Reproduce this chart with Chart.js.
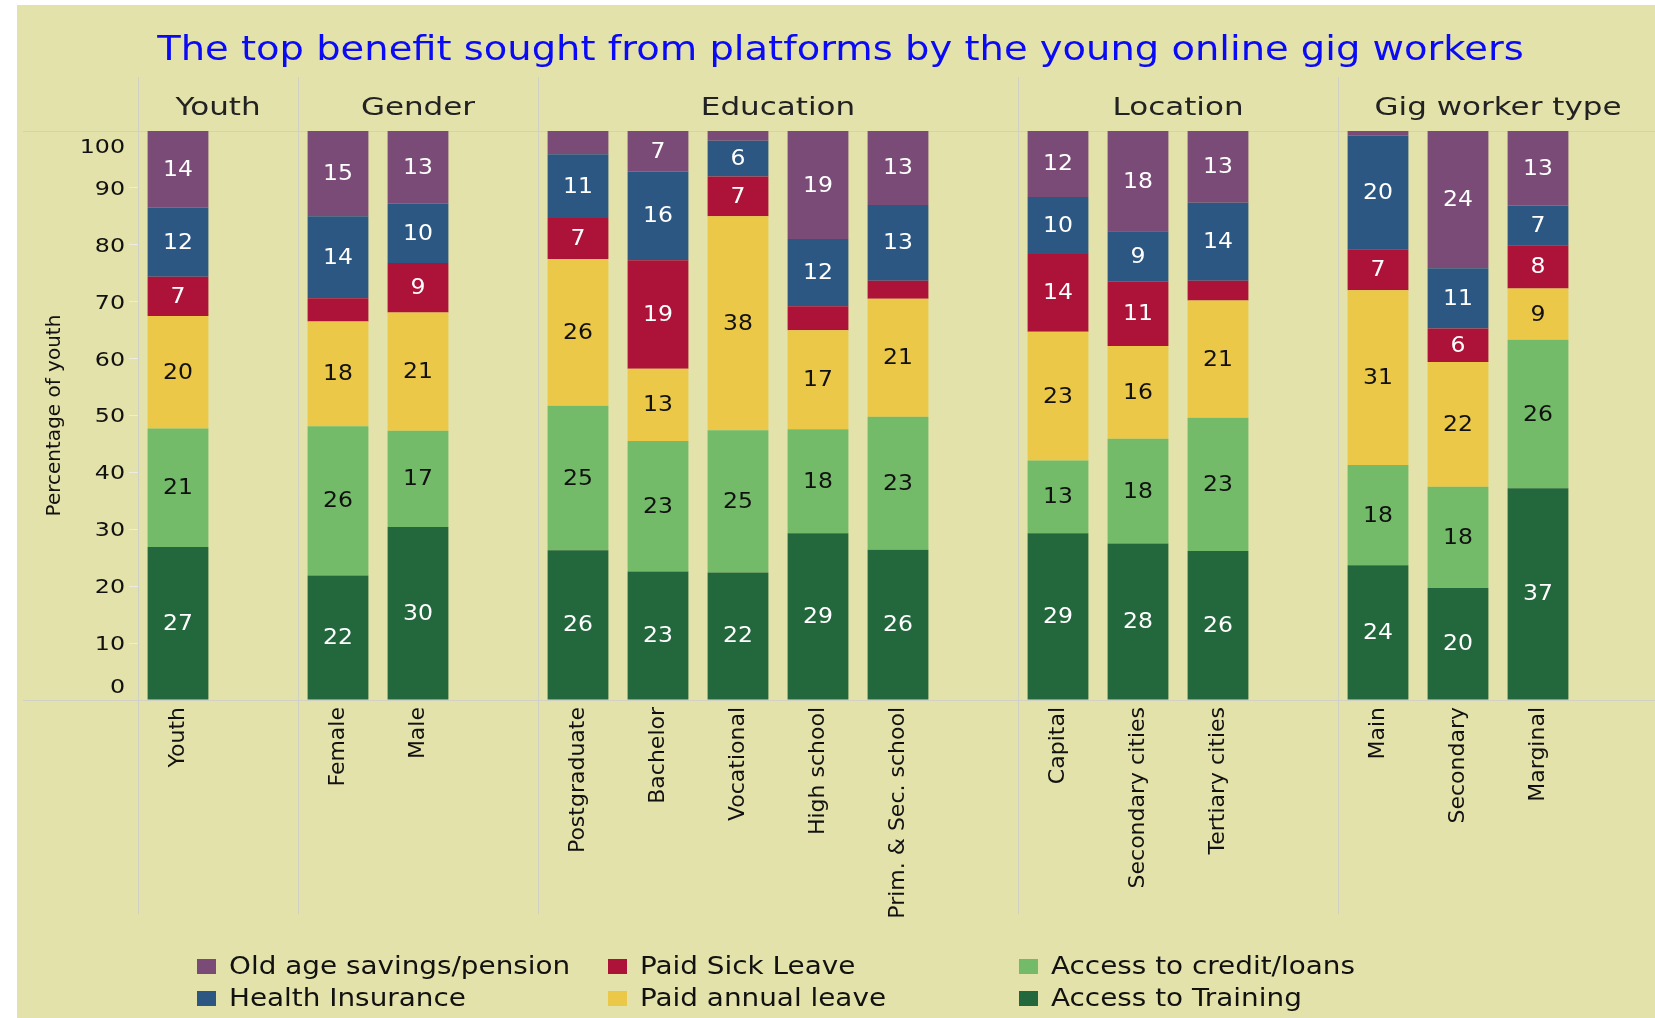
<!DOCTYPE html>
<html>
<head>
<meta charset="utf-8">
<title>Top benefit sought from platforms</title>
<script src="https://cdn.jsdelivr.net/npm/chart.js@4.4.1/dist/chart.umd.min.js"></script>
<style>
  html, body { margin: 0; padding: 0; background: #fff; overflow: hidden; }
  #wrap { position: absolute; left: 17px; top: 5px; width: 1645px; height: 1013px; background: #e3e2aa; }
  #legend {
    position: absolute; left: 180px; top: 945px;
    display: grid; grid-template-columns: 411px 411px 300px; grid-template-rows: 32px 32px;
    grid-auto-flow: column; font-family: "DejaVu Sans"; font-size: 24px; color: #111;
  }
  .item { display: flex; align-items: center; white-space: nowrap; }
  .box { width: 19px; height: 15px; margin-right: 13px; flex: none; }
  .item span { display: inline-block; transform: scaleX(1.16); transform-origin: left center; }
</style>
</head>
<body>
<div id="wrap">
  <canvas id="chart"></canvas>
  <div id="legend"></div>
</div>
<script>
const chartTitle = "The top benefit sought from platforms by the young online gig workers";

// slots with "" are the empty gaps between the groups
const categories = ["Youth", "", "Female", "Male", "", "Postgraduate", "Bachelor", "Vocational", "High school",
  "Prim. & Sec. school", "", "Capital", "Secondary cities", "Tertiary cities", "", "Main", "Secondary", "Marginal", ""];

const groupNames = ["Youth", "Gender", "Education", "Location", "Gig worker type"];
const groupStarts = [0, 2, 5, 11, 15];
const groupEnds = [2, 5, 11, 15, 19];

// percent of youth, bottom of the stack first
const training = [26.9, null, 21.9, 30.4, null, 26.3, 22.6, 22.4, 29.3, 26.4, null, 29.3, 27.5, 26.2, null, 23.7, 19.7, 37.2, null];
const credit   = [20.8, null, 26.2, 16.9, null, 25.4, 22.9, 25.0, 18.3, 23.4, null, 12.8, 18.4, 23.4, null, 17.6, 17.8, 26.1, null];
const annual   = [19.8, null, 18.4, 20.8, null, 25.8, 12.7, 37.6, 17.4, 20.7, null, 22.6, 16.3, 20.6, null, 30.7, 21.9, 9.0, null];
const sick     = [6.9, null, 4.1, 8.7, null, 7.2, 19.1, 7.0, 4.2, 3.2, null, 13.7, 11.3, 3.5, null, 7.2, 5.9, 7.6, null];
const health   = [12.1, null, 14.4, 10.4, null, 11.2, 15.6, 6.3, 11.8, 13.3, null, 10.0, 8.9, 13.7, null, 20.0, 10.6, 7.0, null];
const pension  = [13.5, null, 15.0, 12.8, null, 4.1, 7.1, 1.7, 19.0, 13.0, null, 11.6, 17.6, 12.6, null, 0.8, 24.1, 13.1, null];

const seriesNames = ["Access to Training", "Access to credit/loans", "Paid annual leave", "Paid Sick Leave",
  "Health Insurance", "Old age savings/pension"];
const seriesData = [training, credit, annual, sick, health, pension];
const seriesColors = ["#23683d", "#74bb69", "#ebc847", "#ad1238", "#2b5782", "#7b4b77"];
const labelInk = ["#fff", "#111", "#111", "#fff", "#fff", "#fff"];

const lineColor = "#d0d0c4";

// the source picture is stretched sideways, so the text is too
function stretchText(ctx, text, x, y, sx) {
  ctx.save();
  ctx.translate(x, y);
  ctx.scale(sx, 1);
  ctx.fillText(text, 0, 0);
  ctx.restore();
}

const decor = {
  id: "decor",
  beforeDatasetsDraw(chart) {
    const { ctx, chartArea, scales: { x, y } } = chart;
    const slot = x.width / categories.length;
    ctx.save();

    // title
    ctx.fillStyle = "#0a0af5";
    ctx.font = '33px "DejaVu Sans"';
    ctx.textAlign = "center";
    ctx.textBaseline = "middle";
    stretchText(ctx, chartTitle, chart.width / 2 + 1, 46, 1.165);

    ctx.strokeStyle = lineColor;
    ctx.lineWidth = 1;
    // header borders above and below the bars
    [chartArea.top, chartArea.bottom].forEach(py => {
      ctx.beginPath();
      ctx.moveTo(6, Math.round(py) + 0.5);
      ctx.lineTo(chart.width, Math.round(py) + 0.5);
      ctx.stroke();
    });
    // group separators
    groupStarts.forEach(s => {
      const px = Math.round(x.left + s * slot) + 0.5;
      ctx.beginPath();
      ctx.moveTo(px, 72);
      ctx.lineTo(px, 909);
      ctx.stroke();
    });

    // group headers
    ctx.fillStyle = "#222";
    ctx.font = '25px "DejaVu Sans"';
    groupNames.forEach((name, g) => {
      const cx = x.left + (groupStarts[g] + groupEnds[g]) / 2 * slot;
      stretchText(ctx, name, cx, 103, 1.24);
    });

    // y tick labels, the end ones pulled inside the header borders
    ctx.fillStyle = "#111";
    ctx.font = '19px "DejaVu Sans"';
    ctx.textAlign = "right";
    y.ticks.forEach(t => {
      let py = y.getPixelForValue(t.value) + 2;
      if (t.value === y.max) py += 15;
      if (t.value === y.min) py -= 14;
      stretchText(ctx, t.label, 108, py, 1.25);
    });
    ctx.restore();
  },
  afterDatasetsDraw(chart) {
    const { ctx } = chart;
    ctx.save();
    ctx.font = '21px "DejaVu Sans"';
    ctx.textAlign = "center";
    ctx.textBaseline = "middle";
    chart.data.datasets.forEach((ds, d) => {
      const meta = chart.getDatasetMeta(d);
      meta.data.forEach((bar, i) => {
        const v = ds.data[i];
        if (v == null || v < 5) return;
        const { x, y, base } = bar.getProps(["x", "y", "base"], true);
        ctx.fillStyle = labelInk[d];
        stretchText(ctx, String(Math.round(v)), x, (y + base) / 2 + 1, 1.12);
      });
    });
    ctx.restore();
  }
};

const chart = new Chart(document.getElementById("chart"), {
  type: "bar",
  data: {
    labels: categories,
    datasets: seriesNames.map((name, k) => ({
      label: name,
      data: seriesData[k],
      backgroundColor: seriesColors[k],
      borderWidth: 0,
      categoryPercentage: 1,
      barPercentage: 0.76
    }))
  },
  options: {
    responsive: true,
    maintainAspectRatio: false,
    animation: false,
    layout: { padding: { left: 0, right: 4, top: 126, bottom: 0 } },
    plugins: {
      legend: { display: false },
      tooltip: { enabled: false },
      title: { display: false }
    },
    scales: {
      x: {
        stacked: true,
        grid: { display: false, drawTicks: false },
        border: { display: false },
        ticks: {
          autoSkip: false,
          maxRotation: 90,
          minRotation: 90,
          padding: 7,
          color: "#111",
          font: { family: "DejaVu Sans", size: 22 }
        },
        afterFit(scale) { scale.height = 318; }
      },
      y: {
        stacked: true,
        min: 0,
        max: 100,
        grid: { drawOnChartArea: false, tickLength: 9, tickColor: "#ecece4" },
        border: { display: false },
        ticks: { stepSize: 10, display: false },
        title: {
          display: true,
          text: "Percentage of youth",
          color: "#111",
          font: { family: "DejaVu Sans", size: 20 },
          padding: { top: 26, bottom: 0 }
        },
        afterFit(scale) { scale.width = 121; }
      }
    }
  },
  plugins: [decor]
});

// legend laid out column by column, top of the stack first
const legendEl = document.getElementById("legend");
chart.data.datasets.slice().reverse().forEach(ds => {
  const item = document.createElement("div");
  item.className = "item";
  item.innerHTML = `<div class="box" style="background:${ds.backgroundColor}"></div><span>${ds.label}</span>`;
  legendEl.appendChild(item);
});
</script>
</body>
</html>
